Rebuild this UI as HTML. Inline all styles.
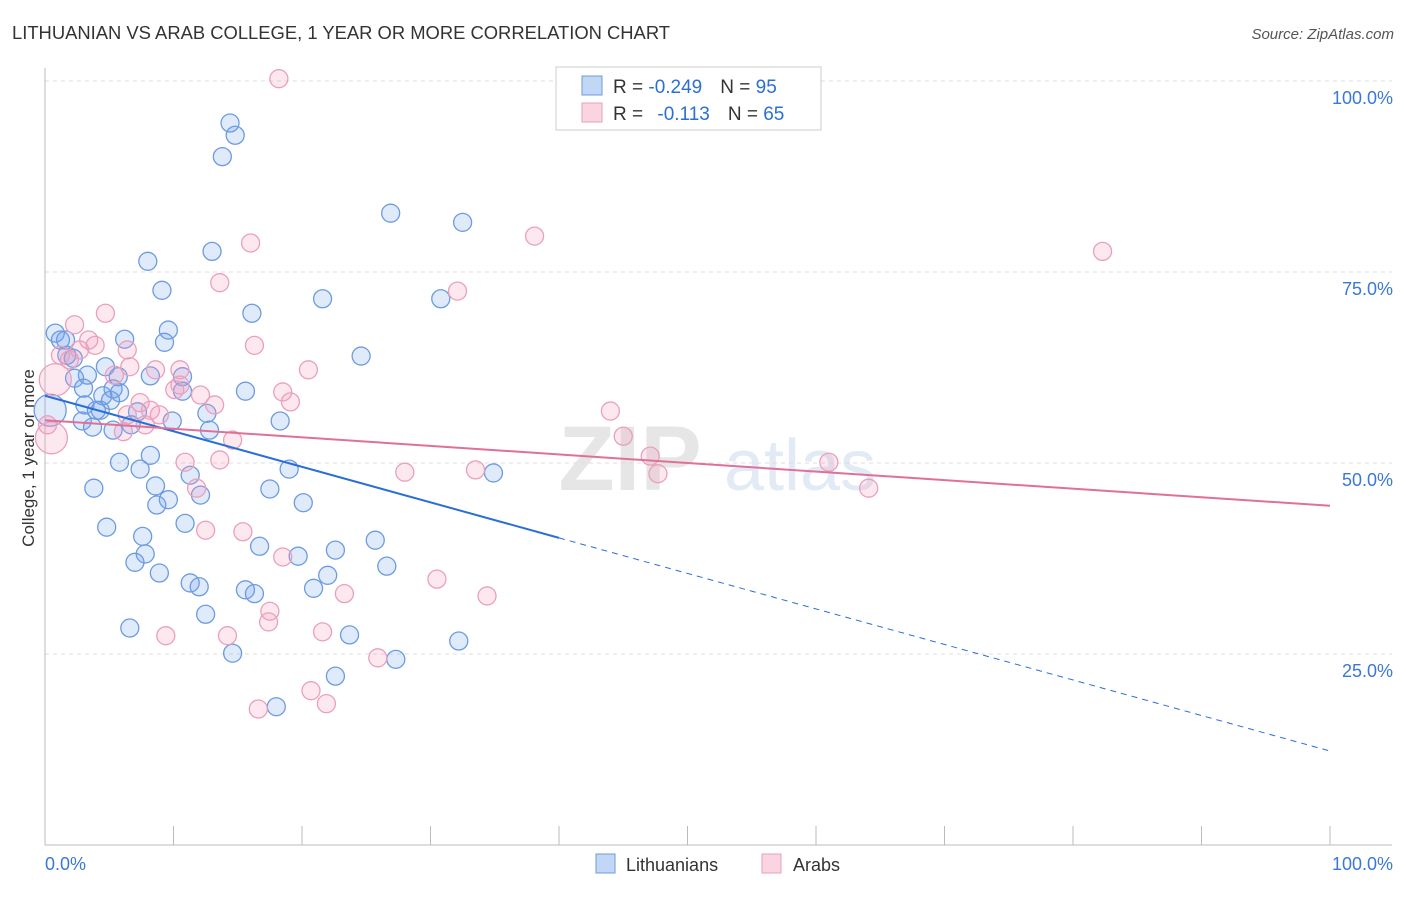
<!DOCTYPE html>
<html><head><meta charset="utf-8"><style>
body{margin:0;background:#fff;font-family:"Liberation Sans",sans-serif;}
svg text{font-family:"Liberation Sans",sans-serif;}
</style></head><body>
<svg width="1406" height="892" xmlns="http://www.w3.org/2000/svg">
<text x="12" y="39" font-size="18.4" fill="#333" textLength="658">LITHUANIAN VS ARAB COLLEGE, 1 YEAR OR MORE CORRELATION CHART</text>
<text x="1394" y="39" font-size="15" fill="#555" font-style="italic" text-anchor="end">Source: ZipAtlas.com</text>
<text x="34" y="458" font-size="17" fill="#333" text-anchor="middle" transform="rotate(-90 34 458)">College, 1 year or more</text>
<g>
<text x="630" y="490" font-size="92" fill="#e6e6e6" text-anchor="middle" font-family="Liberation Serif" font-weight="bold">ZIP</text>
<text x="800" y="490" font-size="72" fill="#e2eaf5" text-anchor="middle">atlas</text>
</g>
<g id="grid"></g>
<g id="axes"></g>
<g id="pts"></g>
<g id="lines"></g>
<g>
<rect x="556" y="67" width="265" height="63" fill="#fff" stroke="#ccc"/>
<rect x="582" y="76" width="20" height="19" fill="rgba(120,165,235,0.45)" stroke="#6d9be0"/>
<rect x="582" y="103" width="20" height="19" fill="rgba(245,160,190,0.45)" stroke="#eaa0bb"/>
<text x="613" y="93" font-size="19" fill="#333">R = <tspan fill="#2a6fd6">-0.249</tspan><tspan dx="18">N = </tspan><tspan fill="#2a6fd6">95</tspan></text>
<text x="613" y="120" font-size="19" fill="#333">R = <tspan dx="9" fill="#2a6fd6">-0.113</tspan><tspan dx="18">N = </tspan><tspan fill="#2a6fd6">65</tspan></text>
</g>
<g>
<rect x="596" y="854" width="19" height="19" fill="rgba(120,165,235,0.45)" stroke="#6d9be0"/>
<text x="626" y="871" font-size="18" fill="#333">Lithuanians</text>
<rect x="762" y="854" width="19" height="19" fill="rgba(245,160,190,0.45)" stroke="#eaa0bb"/>
<text x="793" y="871" font-size="18" fill="#333">Arabs</text>
</g>
</svg>
<script>
const blueX=[14.4,14.8,13.8,26.9,32.5,13.0,8.0,9.1,21.6,30.8,16.1,9.6,0.8,6.2,9.3,1.2,1.6,24.6,1.7,2.2,4.7,8.2,10.7,3.3,2.3,5.7,15.6,10.7,5.3,5.8,3.0,4.5,7.2,4.3,12.6,18.3,2.9,9.9,3.7,5.3,6.7,12.8,8.2,5.8,7.4,19.0,34.9,11.3,8.6,3.8,17.5,12.1,9.6,8.7,20.1,10.9,4.8,7.6,25.7,16.7,19.7,7.8,22.6,7.0,8.9,26.6,22.0,11.3,12.0,15.6,16.3,20.9,12.5,6.6,23.7,32.2,14.6,27.3,22.6,18.0,3.1,4.0,5.1];
const blueY=[94.5,92.9,90.1,82.7,81.5,77.7,76.4,72.6,71.5,71.5,69.6,67.4,67.0,66.2,65.8,66.1,66.1,64.0,64.1,63.7,62.6,61.4,61.3,61.5,61.1,61.3,59.4,59.4,59.7,59.2,59.8,58.8,56.7,56.9,56.5,55.5,55.5,55.5,54.7,54.3,55.0,54.3,51.0,50.1,49.2,49.2,48.7,48.4,47.0,46.7,46.6,45.8,45.2,44.5,44.8,42.1,41.6,40.4,39.9,39.1,37.8,38.1,38.6,37.0,35.6,36.5,35.3,34.3,33.8,33.4,32.9,33.6,30.2,28.4,27.5,26.7,25.1,24.3,22.1,18.1,57.6,56.9,58.2];
const blueBigX=[0.4];
const blueBigY=[56.9];
const pinkX=[18.2,16.0,38.1,82.3,13.6,32.1,4.7,2.3,16.3,3.4,3.9,2.7,6.4,1.2,1.9,5.4,6.6,8.6,10.5,20.5,10.5,10.1,18.5,12.1,19.1,13.2,7.4,6.4,8.2,8.9,6.1,7.8,14.6,44.0,45.0,0.2,10.9,13.6,47.1,28.0,33.5,47.7,61.0,64.1,11.8,12.5,15.4,18.5,30.5,17.5,17.4,23.3,34.4,9.4,14.2,21.6,25.9,20.7,21.9,16.6];
const pinkY=[100.3,78.8,79.7,77.7,73.6,72.5,69.6,68.1,65.4,66.1,65.4,64.8,64.8,64.1,63.5,61.5,62.6,62.2,62.2,62.2,60.2,59.6,59.3,58.9,58.0,57.6,57.9,56.3,56.9,56.3,54.1,55.0,53.0,56.8,53.5,55.0,50.1,50.4,50.9,48.8,49.1,48.6,50.1,46.7,46.7,41.2,41.0,37.7,34.8,30.6,29.2,32.9,32.6,27.4,27.4,27.9,24.5,20.2,18.5,17.8];
const pinkBigX=[0.5,0.8];
const pinkBigY=[53.3,60.9];
const blueTrend=[58.8,-0.465];
const pinkTrend=[55.6,-0.112];
const yTicks=[100,75,50,25];
const yTickLabels=["100.0%","75.0%","50.0%","25.0%"];
const xTickLabels=["0.0%","100.0%"];

const NS="http://www.w3.org/2000/svg";
const sx=v=>45+v*12.85, sy=v=>845-v*7.64;
function mk(tag,a,p){const e=document.createElementNS(NS,tag);for(const k in a)e.setAttribute(k,a[k]);document.getElementById(p).appendChild(e);return e;}
yTicks.forEach((t,i)=>{
 const g=mk('line',{x1:45,x2:1392,y1:sy(t),y2:sy(t),stroke:'#ddd','stroke-dasharray':'4,4'},'grid');
 
 
 const l=mk('text',{x:1393,y:sy(t)+23,'font-size':18,fill:'#3a78d8','text-anchor':'end'},'axes');
 l.textContent=yTickLabels[i];
 
 
});
const ax=mk('line',{x1:45,x2:1392,y1:845,y2:845,stroke:'#bbb'},'axes');


const ay=mk('line',{x1:45,x2:45,y1:68,y2:845,stroke:'#bbb'},'axes');


for(let i=0;i<=10;i++){
 const t=mk('line',{x1:sx(i*10),x2:sx(i*10),y1:826,y2:845,stroke:'#bbb'},'axes');
 
 
}
[[0,'start'],[100,'end']].forEach((d,i)=>{
 const l=mk('text',{x:i?1393:45,y:870,'font-size':18,fill:'#3a78d8','text-anchor':d[1]},'axes');
 l.textContent=xTickLabels[i];
 
 
});
function dots(X,Y,r,fill,stroke,name){X.forEach((x,i)=>{
 const c=mk('circle',{cx:sx(x),cy:sy(Y[i]),r:r,fill:fill,stroke:stroke,'stroke-width':1.3},'pts');
 
 
});}
const bf='rgba(110,160,235,0.22)',bs='#6d9be0',pf='rgba(245,150,185,0.22)',ps='#eaa0bb';
dots(blueX,blueY,9,bf,bs,'lithuanian-point');
dots(blueBigX,blueBigY,16,bf,bs,'lithuanian-point');
dots(pinkX,pinkY,9,pf,ps,'arab-point');
dots(pinkBigX,pinkBigY,16,pf,ps,'arab-point');
const tb=x=>blueTrend[0]+blueTrend[1]*x, tp=x=>pinkTrend[0]+pinkTrend[1]*x;
const b1=mk('line',{x1:sx(0),y1:sy(tb(0)),x2:sx(40),y2:sy(tb(40)),stroke:'#2a6fd6','stroke-width':2},'lines');


const b2=mk('line',{x1:sx(40),y1:sy(tb(40)),x2:sx(100),y2:sy(tb(100)),stroke:'#2a6fd6','stroke-width':1,'stroke-dasharray':'6,5'},'lines');


const p1=mk('line',{x1:sx(0),y1:sy(tp(0)),x2:sx(100),y2:sy(tp(100)),stroke:'#e0709a','stroke-width':2},'lines');


</script>
</body></html>
